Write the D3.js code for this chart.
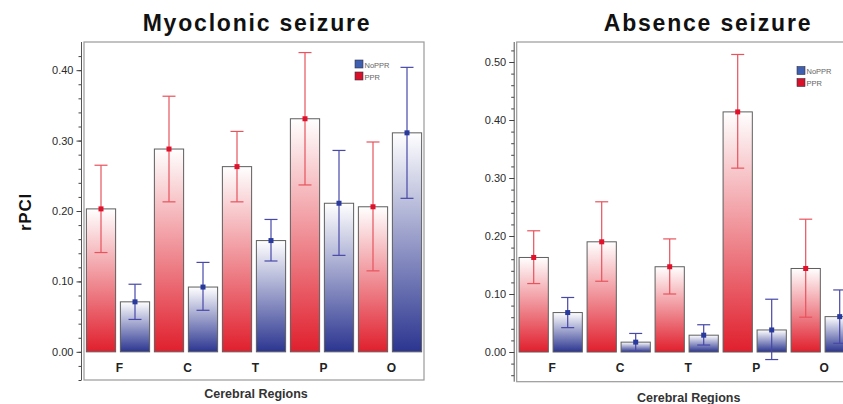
<!DOCTYPE html>
<html>
<head>
<meta charset="utf-8">
<script src="https://cdn.jsdelivr.net/npm/d3@7"></script>
<style>
  body { margin: 0; background: #fff; }
  text { font-family: "Liberation Sans", Arial, sans-serif; }
</style>
</head>
<body>
<div id="chart"></div>
<script>
const regions = ['F', 'C', 'T', 'P', 'O'];
const groups = ['PPR', 'NoPPR'];

// Myoclonic seizure
const myoPPR = [0.203, 0.288, 0.263, 0.331, 0.206];
const myoPPRLow = [0.141, 0.213, 0.213, 0.237, 0.115];
const myoPPRHigh = [0.265, 0.363, 0.313, 0.425, 0.298];
const myoNoPPR = [0.071, 0.092, 0.158, 0.211, 0.311];
const myoNoPPRLow = [0.046, 0.059, 0.129, 0.137, 0.218];
const myoNoPPRHigh = [0.096, 0.127, 0.188, 0.286, 0.404];

// Absence seizure
const absPPR = [0.163, 0.190, 0.147, 0.414, 0.144];
const absPPRLow = [0.118, 0.122, 0.100, 0.317, 0.060];
const absPPRHigh = [0.209, 0.259, 0.195, 0.513, 0.229];
const absNoPPR = [0.068, 0.017, 0.029, 0.038, 0.061];
const absNoPPRLow = [0.042, 0.002, 0.012, -0.013, 0.015];
const absNoPPRHigh = [0.094, 0.032, 0.047, 0.091, 0.107];

const colors = { PPR: '#e01f2d', NoPPR: '#2b3590' };
const errColors = { PPR: '#e8535d', NoPPR: '#4848a8' };

const width = 843, height = 404;
const svg = d3.select('#chart').append('svg')
  .attr('width', width).attr('height', height);

const defs = svg.append('defs');
groups.forEach(g => {
  const grad = defs.append('linearGradient')
    .attr('id', 'grad-' + g)
    .attr('x1', 0).attr('y1', 0).attr('x2', 0).attr('y2', 1);
  grad.append('stop').attr('offset', '0%').attr('stop-color', '#ffffff');
  grad.append('stop').attr('offset', '100%').attr('stop-color', colors[g]);
});

function rows(ppr, pprLo, pprHi, no, noLo, noHi) {
  const out = [];
  regions.forEach((r, i) => {
    out.push({ region: r, group: 'PPR', value: ppr[i], lo: pprLo[i], hi: pprHi[i] });
    out.push({ region: r, group: 'NoPPR', value: no[i], lo: noLo[i], hi: noHi[i] });
  });
  return out;
}

function panel(opts) {
  const { x0, top, bottom, domain, majors, minors, title, titleX, xLabelY, data, legendX, legendY } = opts;
  const g = svg.append('g');

  const x = d3.scaleBand().domain(regions).range([x0, x0 + 340]);
  const xSub = d3.scaleBand().domain(groups).range([0, x.bandwidth()])
    .paddingInner(0.14).paddingOuter(0.07);
  const y = d3.scaleLinear().domain(domain).range([bottom, top]);

  // frame
  g.append('rect')
    .attr('x', x0).attr('y', top)
    .attr('width', 340).attr('height', bottom - top)
    .attr('fill', 'none').attr('stroke', '#9a9a9a').attr('stroke-width', 1.2);

  // axis
  const axisX = x0 - 2.5;
  const minorAxis = g.append('g').attr('transform', `translate(${axisX},0)`)
    .call(d3.axisLeft(y).tickValues(minors).tickSize(3).tickFormat(''));
  minorAxis.select('.domain').remove();
  minorAxis.selectAll('line').attr('stroke', '#444');

  const majorAxis = g.append('g').attr('transform', `translate(${axisX},0)`)
    .call(d3.axisLeft(y).tickValues(majors).tickSize(5).tickPadding(3)
      .tickFormat(d3.format('.2f')));
  majorAxis.select('.domain').attr('d', `M0,${top}V${bottom}`).attr('stroke', '#555');
  majorAxis.selectAll('line').attr('stroke', '#444');
  majorAxis.selectAll('text')
    .attr('font-size', 11).attr('fill', '#2a2a2a')
    .attr('font-family', '"Liberation Sans", Arial, sans-serif');

  // bars
  g.selectAll('rect.bar').data(data).enter().append('rect')
    .attr('class', 'bar')
    .attr('x', d => x(d.region) + xSub(d.group))
    .attr('y', d => y(d.value))
    .attr('width', xSub.bandwidth())
    .attr('height', d => y(0) - y(d.value))
    .attr('fill', d => `url(#grad-${d.group})`)
    .attr('stroke', '#5e5e5e').attr('stroke-width', 1);

  // error bars
  const eb = g.selectAll('g.err').data(data).enter().append('g')
    .attr('class', 'err')
    .attr('transform', d => `translate(${x(d.region) + xSub(d.group) + xSub.bandwidth() / 2},0)`);
  eb.append('line')
    .attr('y1', d => y(d.lo)).attr('y2', d => y(d.hi))
    .attr('stroke', d => errColors[d.group]).attr('stroke-width', 1.2);
  eb.append('line')
    .attr('x1', -6.5).attr('x2', 6.5)
    .attr('y1', d => y(d.hi)).attr('y2', d => y(d.hi))
    .attr('stroke', d => errColors[d.group]).attr('stroke-width', 1.2);
  eb.append('line')
    .attr('x1', -6.5).attr('x2', 6.5)
    .attr('y1', d => y(d.lo)).attr('y2', d => y(d.lo))
    .attr('stroke', d => errColors[d.group]).attr('stroke-width', 1.2);
  eb.append('rect')
    .attr('x', -2.5).attr('width', 5).attr('height', 5)
    .attr('y', d => y(d.value) - 2.5)
    .attr('fill', d => d.group === 'PPR' ? '#e0112b' : '#2a3a9c');

  // category labels
  g.selectAll('text.cat').data(regions).enter().append('text')
    .attr('class', 'cat')
    .attr('x', d => x(d) + x.bandwidth() / 2 + 1.5)
    .attr('y', y(0) + 20)
    .attr('text-anchor', 'middle')
    .attr('font-size', 12).attr('font-weight', 'bold').attr('fill', '#222')
    .text(d => d);

  // title
  g.append('text')
    .attr('x', titleX).attr('y', 31)
    .attr('text-anchor', 'middle')
    .attr('font-size', 23).attr('font-weight', 'bold')
    .attr('letter-spacing', 1.8).attr('fill', '#111')
    .text(title);

  g.append('text')
    .attr('x', x0 + 172).attr('y', xLabelY)
    .attr('text-anchor', 'middle')
    .attr('font-size', 12.5).attr('font-weight', 'bold').attr('fill', '#333')
    .text('Cerebral Regions');

  // legend
  const leg = g.append('g').attr('transform', `translate(${legendX},${legendY})`);
  [['NoPPR', '#3f5fb0'], ['PPR', '#d8102a']].forEach(([name, c], i) => {
    leg.append('rect')
      .attr('x', 0).attr('y', i * 12).attr('width', 8).attr('height', 8)
      .attr('fill', c).attr('stroke', '#334').attr('stroke-width', 0.6);
    leg.append('text')
      .attr('x', 9.5).attr('y', i * 12 + 7.5)
      .attr('font-size', 7.5).attr('fill', '#666')
      .text(name);
  });
}

panel({
  x0: 84, top: 42, bottom: 380,
  domain: [-0.04, 0.44],
  majors: [0, 0.1, 0.2, 0.3, 0.4],
  minors: d3.range(-4, 43, 2).map(v => v / 100),
  title: 'Myoclonic seizure', titleX: 257, xLabelY: 398,
  data: rows(myoPPR, myoPPRLow, myoPPRHigh, myoNoPPR, myoNoPPRLow, myoNoPPRHigh),
  legendX: 355, legendY: 60
});

panel({
  x0: 516.7, top: 42, bottom: 381.7,
  domain: [-0.0512, 0.5345],
  majors: [0, 0.1, 0.2, 0.3, 0.4, 0.5],
  minors: d3.range(-4, 53, 2).map(v => v / 100),
  title: 'Absence seizure', titleX: 708, xLabelY: 402,
  data: rows(absPPR, absPPRLow, absPPRHigh, absNoPPR, absNoPPRLow, absNoPPRHigh),
  legendX: 797, legendY: 66.5
});

// y label
svg.append('text')
  .attr('transform', 'translate(31,212) rotate(-90)')
  .attr('text-anchor', 'middle')
  .attr('font-size', 17).attr('font-weight', 'bold')
  .attr('letter-spacing', 0.8).attr('fill', '#111')
  .text('rPCI');
</script>
</body>
</html>
